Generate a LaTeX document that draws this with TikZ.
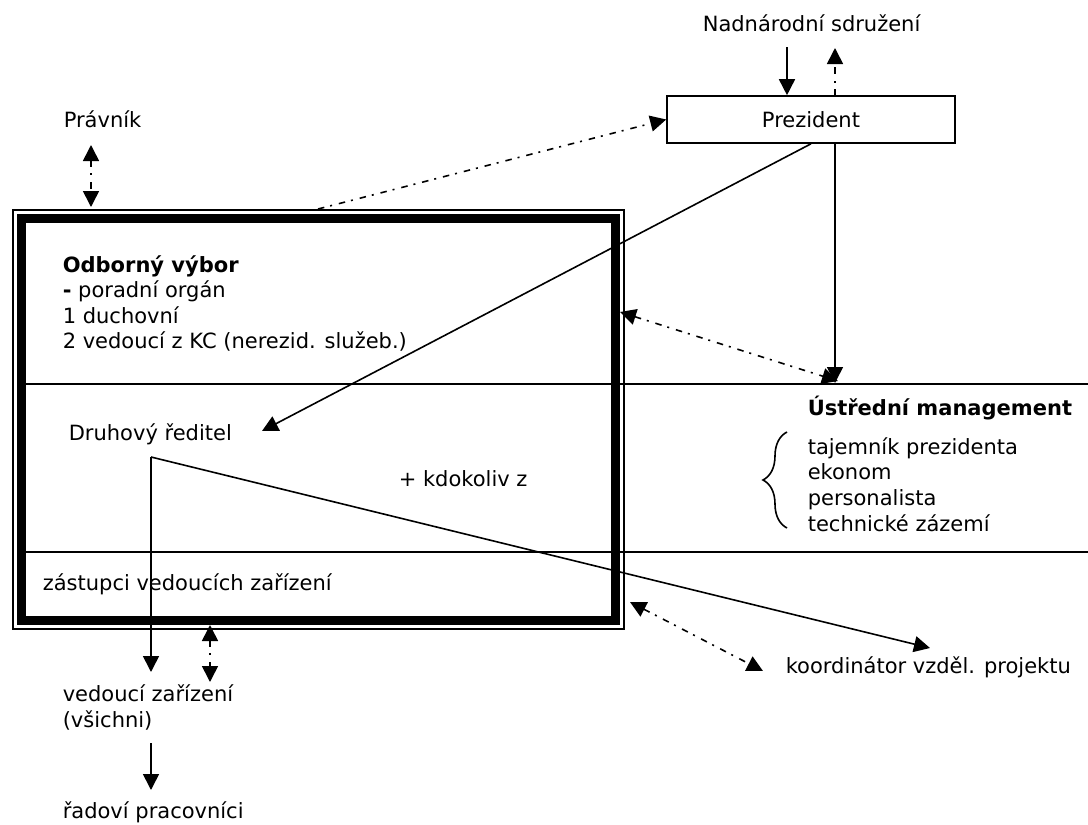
\documentclass[tikz,border=0pt]{standalone}
\usepackage{fontspec}
\setmainfont{DejaVu Sans}
\usetikzlibrary{arrows.meta,positioning,decorations.pathreplacing}

\begin{document}
\begin{tikzpicture}[x=0.5pt,y=-0.5pt,
    >={Triangle[length=8pt,width=8pt]},
    line width=0.8pt,
    txt/.style={anchor=base west,inner sep=0pt,font=\fontsize{10.5}{12.8}\selectfont},
    presbox/.style={draw,inner sep=0pt,minimum width=144pt,minimum height=23.5pt,font=\fontsize{10.5}{12.8}\selectfont},
    dashdot/.style={dash pattern=on 3.25pt off 3pt on 1pt off 3.5pt}]
  \useasboundingbox (0,0) rectangle (1088,825);
  % section lines
  \draw (21.5,384) -- (1088,384);
  \draw (21.5,552) -- (1088,552);
  % double frame of the committee
  \draw[line width=1.25pt] (13,210) rectangle (624,629);
  \draw[line width=4.5pt] (21.5,218.5) rectangle (615.5,620.5);
  % top
  \node[txt] (nad) at (702,31.5) {Nadnárodní sdružení};
  \node[presbox] (prez) at (811,119.5) {Prezident};
  \node[txt] (prav) at (63,127) {Právník};
  % committee
  \node[txt] (odb) at (62,272) {\bfseries Odborný výbor};
  \foreach \i/\t in {1/{\textbf{-} poradní orgán}, 2/{1 duchovní}, 3/{2 vedoucí z KC (nerezid. služeb.)}}
    \node[txt] (odb\i) at (62,272+25.5*\i) {\t};
  \node[txt] (druh) at (68,440) {Druhový ředitel};
  \node[txt] (kdo) at (398,486.5) {+ kdokoliv z};
  \node[txt] (zast) at (42,590) {zástupci vedoucích zařízení};
  % bottom
  \node[txt] (ved) at (62,701.5) {vedoucí zařízení};
  \node[txt] (vsi) at (62,727) {(všichni)};
  \node[txt] (rad) at (62,818) {řadoví pracovníci};
  % central management
  \node[txt] (ustr) at (807,415) {\bfseries Ústřední management};
  \foreach \i/\t in {0/tajemník prezidenta, 1/ekonom, 2/personalista, 3/technické zázemí}
    \node[txt] (ustr\i) at (807,454+25.9*\i) {\t};
  \draw[decorate,decoration={brace,amplitude=12pt}] (787,528) -- (787,432);
  \node[txt] (koord) at (785,673) {koordinátor vzděl. projektu};
  % coordinates for free ends
  \coordinate (nadin) at (787,47);
  \coordinate (nadout) at (835,48);
  \coordinate (mgmt) at (835,383);
  \coordinate (mgmtdd) at (838,381);
  \coordinate (odbtop) at (318,209);
  \coordinate (odbright) at (620,312);
  \coordinate (odbbot) at (630,602);
  \coordinate (koorddd) at (763,671);
  \coordinate (pravup) at (91,145);
  \coordinate (pravdown) at (91,207);
  \coordinate (druhtip) at (262,431);
  \coordinate (druhc) at (151,457);
  \coordinate (vedtip) at (151,672);
  \coordinate (koordtip) at (930,648);
  \coordinate (zastdd) at (210,625);
  \coordinate (veddd) at (210,682);
  \coordinate (vsiout) at (151,743);
  \coordinate (radtip) at (151,790);
  % connectors
  \draw[->] (nadin) -- (nadin |- prez.north);
  \draw[->,dashdot] (nadout |- prez.north) -- (nadout);
  \draw[->] (prez.south) -- (druhtip);
  \draw[->] (mgmt |- prez.south) -- (mgmt);
  \draw[->,dashdot] (odbtop) -- (prez.west);
  \draw[<->,dashdot] (odbright) -- (mgmtdd);
  \draw[<->,dashdot] (pravup) -- (pravdown);
  \draw[->] (druhc) -- (vedtip);
  \draw[->] (druhc) -- (koordtip);
  \draw[<->,dashdot] (zastdd) -- (veddd);
  \draw[<->,dashdot] (odbbot) -- (koorddd);
  \draw[->] (vsiout) -- (radtip);
\end{tikzpicture}
\end{document}
